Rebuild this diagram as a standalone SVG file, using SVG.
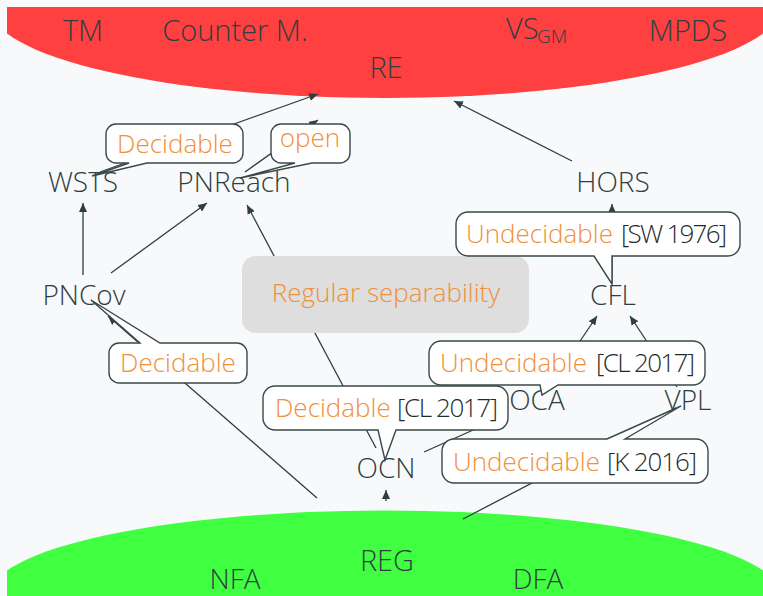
<svg xmlns="http://www.w3.org/2000/svg" width="763" height="596" viewBox="0 0 763 596">
  <style>
    .lbl { font-family: "Open Sans", "Noto Sans", "Liberation Sans", sans-serif; font-weight: 300; font-size: 28px; fill: #2f3e41; text-anchor: middle; }
    .big { font-size: 29px; }
    .start { text-anchor: start; }
    .note { font-family: "Open Sans", "Noto Sans", "Liberation Sans", sans-serif; font-weight: 300; font-size: 26px; }
    .ok { fill: #f0903a; }
    .ref { fill: #1f2a2c; }
    .edge { fill: none; stroke: #2f3e41; stroke-width: 1.3; }
    .call { fill: #ffffff; stroke: #3a484a; stroke-width: 1.4; }
    .box { fill: #dedede; }
  </style>
  <defs>
    <marker id="arrow" markerUnits="userSpaceOnUse" markerWidth="10" markerHeight="8" refX="9" refY="4" orient="auto">
      <path d="M0,0 L9,4 L0,8 Z" fill="#2f3e41"/>
    </marker>
    <clipPath id="frame">
      <rect x="7" y="7" width="756" height="589"/>
    </clipPath>
  </defs>

  <rect width="763" height="596" fill="#f8f9fa"/>

  <!-- the two regions: recursively enumerable (top) and regular (bottom) -->
  <g clip-path="url(#frame)">
    <ellipse id="region-re" cx="385" cy="7" rx="395" ry="91" fill="#ff4040"/>
    <ellipse id="region-reg" cx="385" cy="595" rx="395" ry="84.5" fill="#40ff40"/>
  </g>

  <!-- connectors -->
  <g id="connectors">
    <path class="edge" d="M100,172 L318,94" marker-end="url(#arrow)"/>
    <path class="edge" d="M245,172 L318,120" marker-end="url(#arrow)"/>
    <path class="edge" d="M572,161 L454,101" marker-end="url(#arrow)"/>
    <path class="edge" d="M612,283 L612,204" marker-end="url(#arrow)"/>
    <path class="edge" d="M83,275 L83,203" marker-end="url(#arrow)"/>
    <path class="edge" d="M111,273 L207,203" marker-end="url(#arrow)"/>
    <path class="edge" d="M376,448 L247,205" marker-end="url(#arrow)"/>
    <path class="edge" d="M317,498 L108,316" marker-end="url(#arrow)"/>
    <path class="edge" d="M386,501 L386,490" marker-end="url(#arrow)"/>
    <path class="edge" d="M424,452 L500,418" marker-end="url(#arrow)"/>
    <path class="edge" d="M549,387 L597,316" marker-end="url(#arrow)"/>
    <path class="edge" d="M677,387 L630,316" marker-end="url(#arrow)"/>
    <path class="edge" d="M463,519 L676,408"/>
  </g>

  <!-- central topic -->
  <g id="regular-separability">
    <rect class="box" x="242" y="256" width="287" height="77" rx="14"/>
    <text class="note ok" x="386" y="302" text-anchor="middle" font-size="27">Regular separability</text>
  </g>

  <!-- classes -->
  <g id="TM"><text class="lbl big" x="83" y="41">TM</text></g>
  <g id="CounterM"><text class="lbl big" x="235" y="41">Counter M.</text></g>
  <g id="VSGM"><text class="lbl big start" x="506" y="39">VS<tspan x="537" y="43" font-size="19">GM</tspan></text></g>
  <g id="MPDS"><text class="lbl big" x="688" y="41">MPDS</text></g>
  <g id="RE"><text class="lbl big" x="386" y="78">RE</text></g>
  <g id="WSTS"><text class="lbl" x="83" y="192">WSTS</text></g>
  <g id="PNReach"><text class="lbl" x="234" y="192">PNReach</text></g>
  <g id="HORS"><text class="lbl" x="613" y="192">HORS</text></g>
  <g id="PNCov"><text class="lbl" x="84" y="305">PNCov</text></g>
  <g id="CFL"><text class="lbl" x="613" y="305">CFL</text></g>
  <g id="OCA"><text class="lbl" x="537" y="410">OCA</text></g>
  <g id="VPL"><text class="lbl" x="688" y="410">VPL</text></g>
  <g id="OCN"><text class="lbl" x="386" y="478">OCN</text></g>
  <g id="REG"><text class="lbl big" x="387" y="571">REG</text></g>
  <g id="NFA"><text class="lbl" x="235" y="589">NFA</text></g>
  <g id="DFA"><text class="lbl" x="538" y="589">DFA</text></g>

  <!-- decidability callouts -->
  <g id="note-wsts">
    <path class="call" d="M116,124 H233 A10,10 0 0 1 243,134 V153 A10,10 0 0 1 233,163 H147 L92,176 L129,163 H116 A10,10 0 0 1 106,153 V134 A10,10 0 0 1 116,124 Z"/>
    <text class="note ok" x="175" y="153" text-anchor="middle">Decidable</text>
  </g>
  <g id="note-pnreach">
    <path class="call" d="M281,124 H340 A10,10 0 0 1 350,134 V153 A10,10 0 0 1 340,163 H312 L240,178 L295,163 H281 A10,10 0 0 1 271,153 V134 A10,10 0 0 1 281,124 Z"/>
    <text class="note ok" x="310" y="147" text-anchor="middle">open</text>
  </g>
  <g id="note-cfl">
    <path class="call" d="M468,212 H728 A12,12 0 0 1 740,224 V244 A12,12 0 0 1 728,256 H612 L612,284 L594,256 H468 A12,12 0 0 1 456,244 V224 A12,12 0 0 1 468,212 Z"/>
    <text class="note" x="466" y="243"><tspan class="ok">Undecidable</tspan><tspan class="ref" x="621" textLength="106" lengthAdjust="spacing">[SW 1976]</tspan></text>
  </g>
  <g id="note-pncov">
    <path class="call" d="M119,343 H140 L91,300 L160,343 H237 A10,10 0 0 1 247,353 V373 A10,10 0 0 1 237,383 H119 A10,10 0 0 1 109,373 V353 A10,10 0 0 1 119,343 Z"/>
    <text class="note ok" x="178" y="372" text-anchor="middle">Decidable</text>
  </g>
  <g id="note-oca">
    <path class="call" d="M441,341 H693 A12,12 0 0 1 705,353 V373 A12,12 0 0 1 693,385 H558 L542,395 L540,385 H441 A12,12 0 0 1 429,373 V353 A12,12 0 0 1 441,341 Z"/>
    <text class="note" x="440" y="372"><tspan class="ok">Undecidable</tspan><tspan class="ref" x="596" textLength="99" lengthAdjust="spacing">[CL 2017]</tspan></text>
  </g>
  <g id="note-ocn">
    <path class="call" d="M275,386 H496 A12,12 0 0 1 508,398 V418 A12,12 0 0 1 496,430 H396 L385,460 L378,430 H275 A12,12 0 0 1 263,418 V398 A12,12 0 0 1 275,386 Z"/>
    <text class="note" x="275" y="417"><tspan class="ok">Decidable</tspan><tspan class="ref" x="397" textLength="101" lengthAdjust="spacing">[CL 2017]</tspan></text>
  </g>
  <g id="note-vpl">
    <path class="call" d="M454,439 H607 L681,406 L625,439 H696 A12,12 0 0 1 708,451 V471 A12,12 0 0 1 696,483 H454 A12,12 0 0 1 442,471 V451 A12,12 0 0 1 454,439 Z"/>
    <text class="note" x="453" y="471"><tspan class="ok">Undecidable</tspan><tspan class="ref" x="607" textLength="90" lengthAdjust="spacing">[K 2016]</tspan></text>
  </g>
</svg>
